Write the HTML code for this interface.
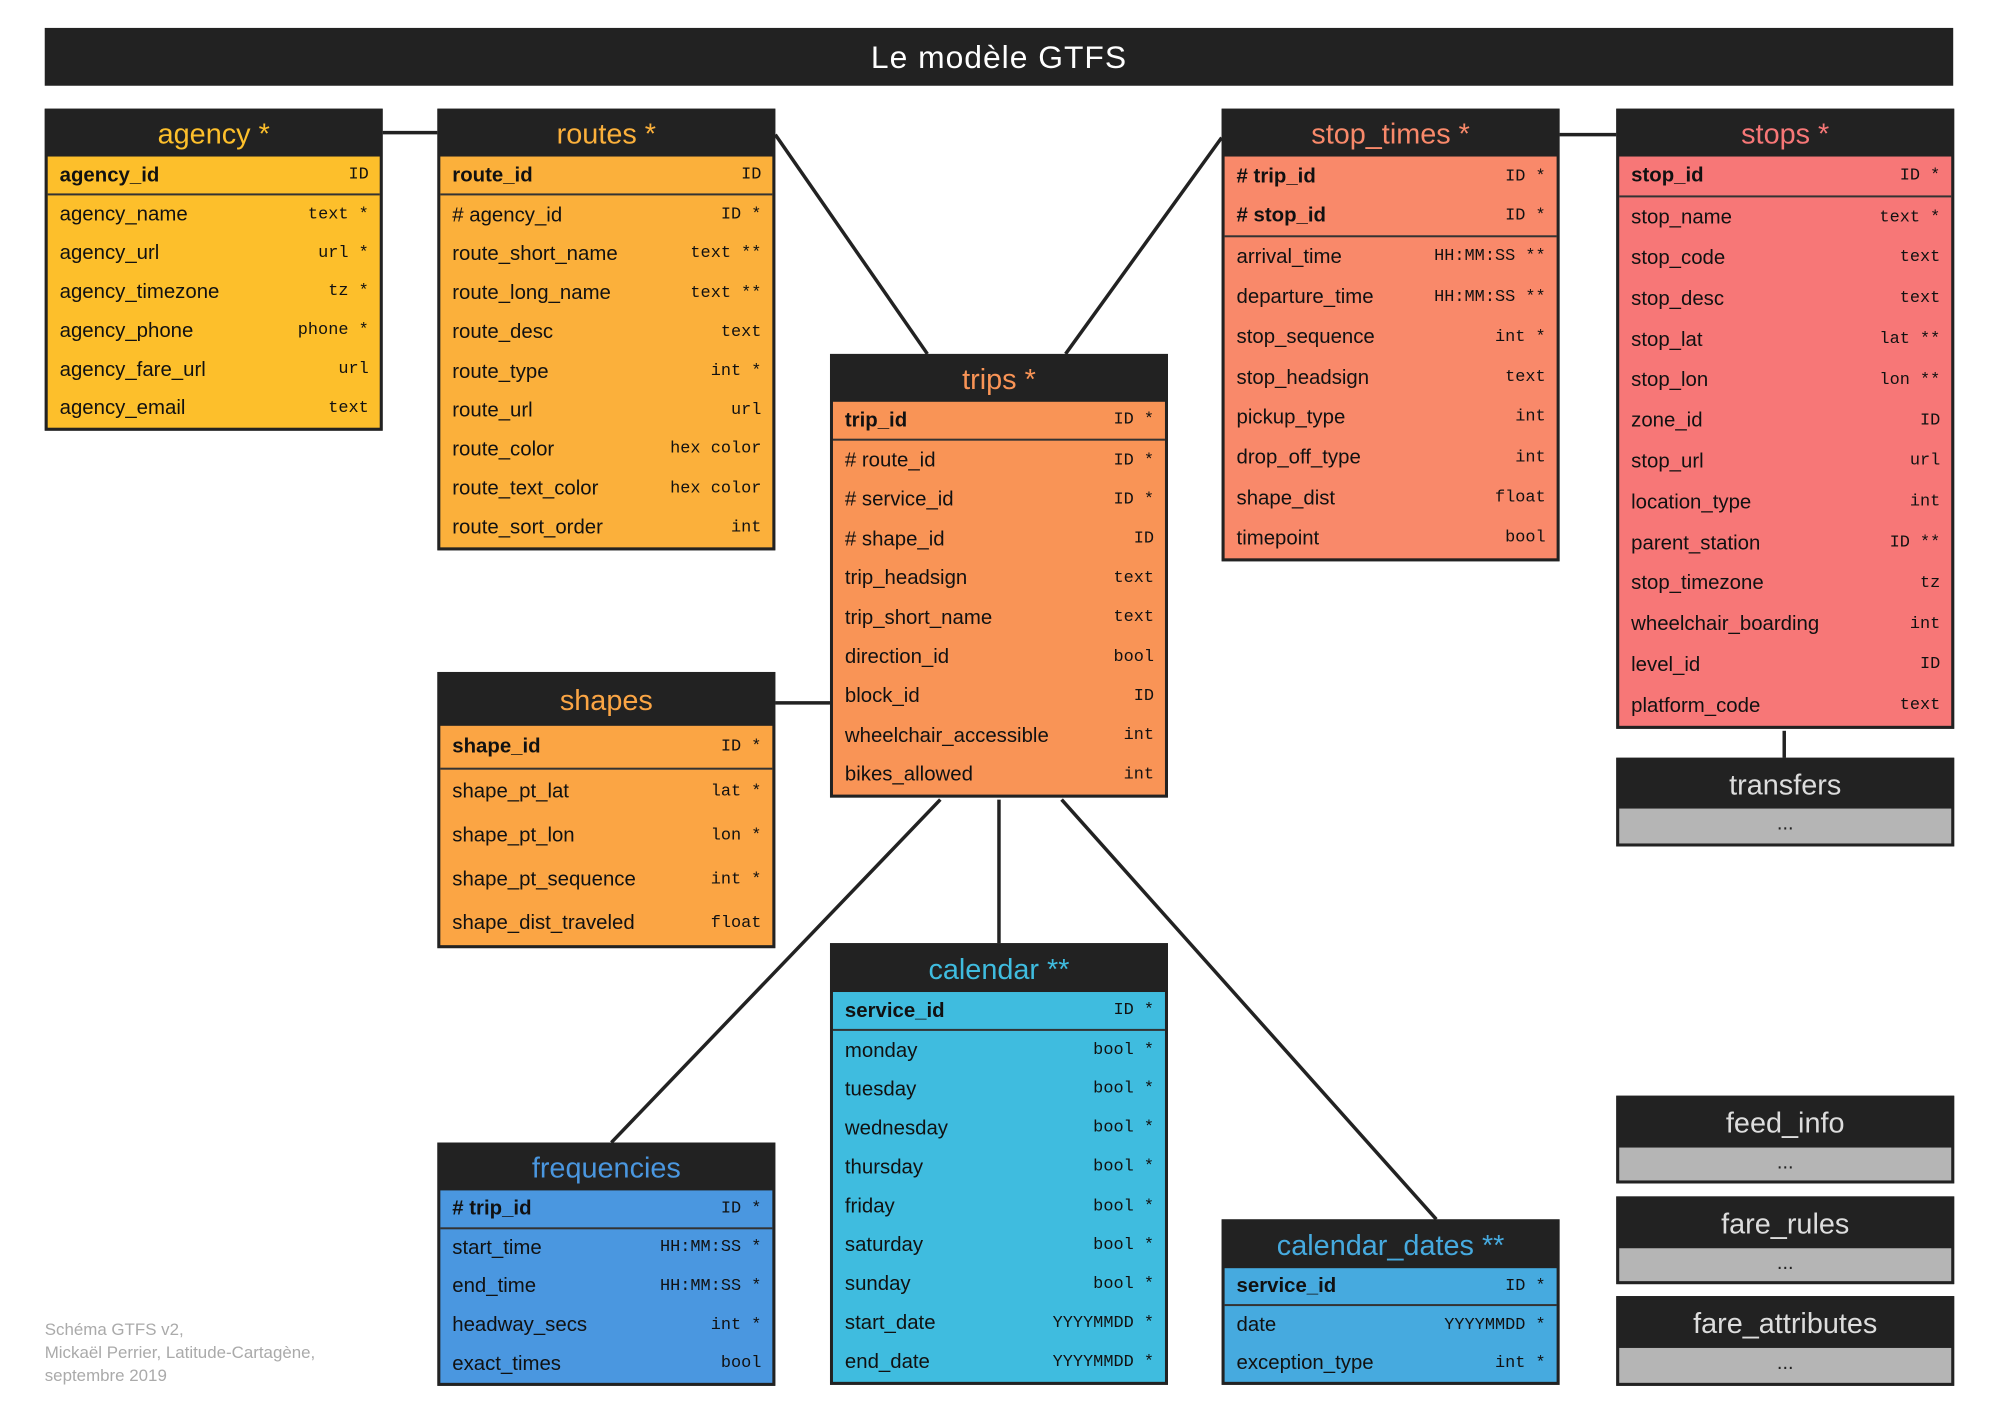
<!DOCTYPE html>
<html><head><meta charset="utf-8"><style>
*{margin:0;padding:0;box-sizing:border-box}
body{width:2000px;height:1414px;background:#fff;position:relative;overflow:hidden;font-family:"Liberation Sans",sans-serif}
#w{position:absolute;left:0;top:0;width:2000px;height:1414px;transform:scale(0.994,0.997);transform-origin:0 0}
.title{position:absolute;left:45px;top:28px;width:1920px;height:58px;background:#222;color:#fff;font-size:32px;text-align:center;line-height:58px;letter-spacing:1px}
.t{position:absolute;width:340px;border:3px solid #222;background:#222}
.h{text-align:center;font-size:29px;color:#fff}
.r{display:flex;justify-content:space-between;align-items:center;padding:0 11px 0 12px;font-size:20.5px;color:#111}
.r span{font-family:"Liberation Mono",monospace;font-size:17px;white-space:pre;font-weight:normal}
.pk{font-weight:bold;border-bottom:2px solid #333}
.g .b{background:#b5b5b5;text-align:center;font-size:20px;color:#222;line-height:30px}
.g .h{color:#ddd}
svg{position:absolute;left:0;top:0}
.foot{position:absolute;left:45px;top:1322px;color:#aaa;font-size:17px;line-height:23px}
</style></head><body><div id="w">
<svg width="2000" height="1414"><g stroke="#222" stroke-width="3.5" fill="none">
<line x1="385" y1="133" x2="440" y2="133"/>
<line x1="780" y1="135" x2="933" y2="355"/>
<line x1="1229" y1="138" x2="1072" y2="355"/>
<line x1="1569" y1="135" x2="1626" y2="135"/>
<line x1="780" y1="705" x2="835" y2="705"/>
<line x1="946" y1="802" x2="615" y2="1146"/>
<line x1="1005" y1="802" x2="1005" y2="946"/>
<line x1="1068" y1="802" x2="1445" y2="1223"/>
<line x1="1795" y1="733" x2="1795" y2="760"/>
</g></svg>
<div class="title">Le modèle GTFS</div>

<div class="t" style="left:45px;top:109px"><div class="h" style="height:45px;line-height:47px;color:#FDBF2B">agency *</div>
<div style="background:#FDBF2B">
<div class="r pk" style="height:39px">agency_id<span>ID</span></div>
<div class="r" style="height:38.8px">agency_name<span>text *</span></div>
<div class="r" style="height:38.8px">agency_url<span>url *</span></div>
<div class="r" style="height:38.8px">agency_timezone<span>tz *</span></div>
<div class="r" style="height:38.8px">agency_phone<span>phone *</span></div>
<div class="r" style="height:38.8px">agency_fare_url<span>url</span></div>
<div class="r" style="height:38.8px">agency_email<span>text</span></div>
</div></div>

<div class="t" style="left:440px;top:109px"><div class="h" style="height:45px;line-height:47px;color:#FBB03B">routes *</div>
<div style="background:#FBB03B">
<div class="r pk" style="height:39.2px">route_id<span>ID</span></div>
<div class="r" style="height:39.2px"># agency_id<span>ID *</span></div>
<div class="r" style="height:39.2px">route_short_name<span>text **</span></div>
<div class="r" style="height:39.2px">route_long_name<span>text **</span></div>
<div class="r" style="height:39.2px">route_desc<span>text</span></div>
<div class="r" style="height:39.2px">route_type<span>int *</span></div>
<div class="r" style="height:39.2px">route_url<span>url</span></div>
<div class="r" style="height:39.2px">route_color<span>hex color</span></div>
<div class="r" style="height:39.2px">route_text_color<span>hex color</span></div>
<div class="r" style="height:39.2px">route_sort_order<span>int</span></div>
</div></div>

<div class="t" style="left:835px;top:355px"><div class="h" style="height:45px;line-height:47px;color:#F99456">trips *</div>
<div style="background:#F99456">
<div class="r pk" style="height:39.4px">trip_id<span>ID *</span></div>
<div class="r" style="height:39.4px"># route_id<span>ID *</span></div>
<div class="r" style="height:39.4px"># service_id<span>ID *</span></div>
<div class="r" style="height:39.4px"># shape_id<span>ID</span></div>
<div class="r" style="height:39.4px">trip_headsign<span>text</span></div>
<div class="r" style="height:39.4px">trip_short_name<span>text</span></div>
<div class="r" style="height:39.4px">direction_id<span>bool</span></div>
<div class="r" style="height:39.4px">block_id<span>ID</span></div>
<div class="r" style="height:39.4px">wheelchair_accessible<span>int</span></div>
<div class="r" style="height:39.4px">bikes_allowed<span>int</span></div>
</div></div>

<div class="t" style="left:1229px;top:109px"><div class="h" style="height:45px;line-height:47px;color:#F9896A">stop_times *</div>
<div style="background:#F9896A">
<div class="r" style="height:40.3px;font-weight:bold"># trip_id<span>ID *</span></div>
<div class="r pk" style="height:40.3px"># stop_id<span>ID *</span></div>
<div class="r" style="height:40.3px">arrival_time<span>HH:MM:SS **</span></div>
<div class="r" style="height:40.3px">departure_time<span>HH:MM:SS **</span></div>
<div class="r" style="height:40.3px">stop_sequence<span>int *</span></div>
<div class="r" style="height:40.3px">stop_headsign<span>text</span></div>
<div class="r" style="height:40.3px">pickup_type<span>int</span></div>
<div class="r" style="height:40.3px">drop_off_type<span>int</span></div>
<div class="r" style="height:40.3px">shape_dist<span>float</span></div>
<div class="r" style="height:40.3px">timepoint<span>bool</span></div>
</div></div>

<div class="t" style="left:1626px;top:109px"><div class="h" style="height:45px;line-height:47px;color:#F77777">stops *</div>
<div style="background:#F77777">
<div class="r pk" style="height:40.8px">stop_id<span>ID *</span></div>
<div class="r" style="height:40.8px">stop_name<span>text *</span></div>
<div class="r" style="height:40.8px">stop_code<span>text</span></div>
<div class="r" style="height:40.8px">stop_desc<span>text</span></div>
<div class="r" style="height:40.8px">stop_lat<span>lat **</span></div>
<div class="r" style="height:40.8px">stop_lon<span>lon **</span></div>
<div class="r" style="height:40.8px">zone_id<span>ID</span></div>
<div class="r" style="height:40.8px">stop_url<span>url</span></div>
<div class="r" style="height:40.8px">location_type<span>int</span></div>
<div class="r" style="height:40.8px">parent_station<span>ID **</span></div>
<div class="r" style="height:40.8px">stop_timezone<span>tz</span></div>
<div class="r" style="height:40.8px">wheelchair_boarding<span>int</span></div>
<div class="r" style="height:40.8px">level_id<span>ID</span></div>
<div class="r" style="height:40.8px">platform_code<span>text</span></div>
</div></div>

<div class="t" style="left:440px;top:674px"><div class="h" style="height:51px;line-height:53px;color:#FBA544">shapes</div>
<div style="background:#FBA544">
<div class="r pk" style="height:44px">shape_id<span>ID *</span></div>
<div class="r" style="height:44px">shape_pt_lat<span>lat *</span></div>
<div class="r" style="height:44px">shape_pt_lon<span>lon *</span></div>
<div class="r" style="height:44px">shape_pt_sequence<span>int *</span></div>
<div class="r" style="height:44px">shape_dist_traveled<span>float</span></div>
</div></div>

<div class="t" style="left:835px;top:946px"><div class="h" style="height:46px;line-height:48px;color:#3FBCDF">calendar **</div>
<div style="background:#3FBCDF">
<div class="r pk" style="height:39.1px">service_id<span>ID *</span></div>
<div class="r" style="height:39.1px">monday<span>bool *</span></div>
<div class="r" style="height:39.1px">tuesday<span>bool *</span></div>
<div class="r" style="height:39.1px">wednesday<span>bool *</span></div>
<div class="r" style="height:39.1px">thursday<span>bool *</span></div>
<div class="r" style="height:39.1px">friday<span>bool *</span></div>
<div class="r" style="height:39.1px">saturday<span>bool *</span></div>
<div class="r" style="height:39.1px">sunday<span>bool *</span></div>
<div class="r" style="height:39.1px">start_date<span>YYYYMMDD *</span></div>
<div class="r" style="height:39.1px">end_date<span>YYYYMMDD *</span></div>
</div></div>

<div class="t" style="left:440px;top:1146px"><div class="h" style="height:45px;line-height:47px;color:#4A97E0">frequencies</div>
<div style="background:#4A97E0">
<div class="r pk" style="height:38.6px"># trip_id<span>ID *</span></div>
<div class="r" style="height:38.6px">start_time<span>HH:MM:SS *</span></div>
<div class="r" style="height:38.6px">end_time<span>HH:MM:SS *</span></div>
<div class="r" style="height:38.6px">headway_secs<span>int *</span></div>
<div class="r" style="height:38.6px">exact_times<span>bool</span></div>
</div></div>

<div class="t" style="left:1229px;top:1223px"><div class="h" style="height:46px;line-height:48px;color:#46AADF">calendar_dates **</div>
<div style="background:#46AADF">
<div class="r pk" style="height:38px">service_id<span>ID *</span></div>
<div class="r" style="height:38px">date<span>YYYYMMDD *</span></div>
<div class="r" style="height:38px">exception_type<span>int *</span></div>
</div></div>

<div class="t g" style="left:1626px;top:760px"><div class="h" style="height:48px;line-height:50px">transfers</div><div class="b" style="height:35px">...</div></div>
<div class="t g" style="left:1626px;top:1099px"><div class="h" style="height:49px;line-height:51px">feed_info</div><div class="b" style="height:33px">...</div></div>
<div class="t g" style="left:1626px;top:1200px"><div class="h" style="height:49px;line-height:51px">fare_rules</div><div class="b" style="height:33px">...</div></div>
<div class="t g" style="left:1626px;top:1300px"><div class="h" style="height:49px;line-height:51px">fare_attributes</div><div class="b" style="height:35px">...</div></div>

<div class="foot">Schéma GTFS v2,<br>Mickaël Perrier, Latitude-Cartagène,<br>septembre 2019</div>
</div></body></html>
